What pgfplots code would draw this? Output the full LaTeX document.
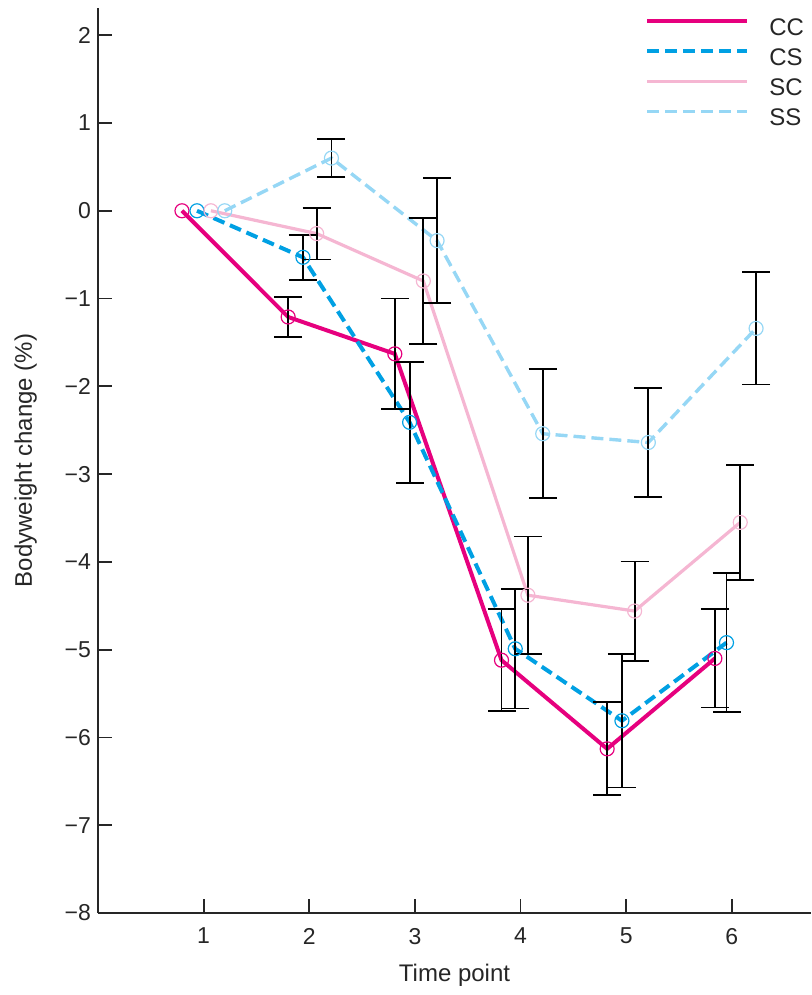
\documentclass[border=0pt]{standalone}
\usepackage{fontspec}
\setmainfont{Liberation Sans}
\usepackage{pgfplots}
\pgfplotsset{compat=1.18}
\usepackage{pgfplotstable}

\definecolor{cc}{RGB}{230,0,126}
\definecolor{cs}{RGB}{0,160,227}
\definecolor{sc}{RGB}{245,182,210}
\definecolor{ss}{RGB}{150,215,245}

\pgfplotstableread{
x y e
0.795 0 0
1.80 -1.21 0.225
2.81 -1.63 0.63
3.82 -5.12 0.58
4.82 -6.13 0.53
5.84 -5.10 0.56
}\CC
\pgfplotstableread{
x y e
0.937 0 0
1.94 -0.53 0.255
2.95 -2.41 0.69
3.95 -4.99 0.68
4.96 -5.81 0.76
5.95 -4.92 0.79
}\CS
\pgfplotstableread{
x y e
1.069 0 0
2.07 -0.26 0.295
3.08 -0.80 0.72
4.07 -4.38 0.67
5.08 -4.56 0.565
6.08 -3.55 0.655
}\SC
\pgfplotstableread{
x y e
1.20 0 0
2.21 0.60 0.215
3.21 -0.34 0.715
4.21 -2.54 0.735
5.21 -2.64 0.625
6.23 -1.34 0.64
}\SS

\begin{document}
\begin{tikzpicture}
\begin{axis}[
  scale only axis, width=356.5pt, height=452.5pt,
  xmin=0, xmax=6.75, ymin=-8, ymax=2.31,
  axis x line=bottom, axis y line=left,
  axis line style={-, line width=0.9pt, black!85},
  tick align=inside, major tick length=7pt,
  tick style={black!85, line width=0.9pt},
  xtick={1,2,3,4,5,6}, xticklabels={1,2,3,4,5,6},
  ytick={-8,-7,-6,-5,-4,-3,-2,-1,0,1,2},
  yticklabels={−8,−7,−6,−5,−4,−3,−2,−1,0,1,2},
  ticklabel style={font=\fontsize{11.5}{13}\selectfont, text=black!85},
  xticklabel style={yshift=-4pt},
  label style={font=\fontsize{12}{14}\selectfont, text=black!85},
  xlabel style={yshift=-3pt},
  ylabel style={yshift=7pt},
  xlabel={Time point}, ylabel={Bodyweight change (\%)},
  clip=false,
  legend style={at={(axis description cs:0.767,1)}, anchor=north west, yshift=-5pt,
    draw=none, fill=none, inner sep=0pt, column sep=10pt, row sep=5pt,
    font=\fontsize{12}{14}\selectfont,
    nodes={inner sep=0pt, text height=8.5pt, text depth=1.5pt, text=black!85}},
  legend cell align=left,
  legend image code/.code={\draw[#1] (0pt,3.5pt) -- (50pt,3.5pt);},
  error bars/error bar style={black, line width=0.9pt, solid},
  error bars/error mark options={black, rotate=90, mark size=7pt, line width=0.9pt, solid},
]
\addplot[cc, line width=2pt, mark=o, mark size=3.5pt, mark options={solid, line width=0.6pt}] table[x=x,y=y] {\CC};
\addlegendentry{CC}
\addplot[cs, line width=2pt, dash pattern=on 6pt off 3pt, mark=o, mark size=3.5pt, mark options={solid, line width=0.6pt}] table[x=x,y=y] {\CS};
\addlegendentry{CS}
\addplot[sc, line width=1.6pt, mark=o, mark size=3.5pt, mark options={solid, line width=0.6pt}] table[x=x,y=y] {\SC};
\addlegendentry{SC}
\addplot[ss, line width=1.7pt, dash pattern=on 6pt off 3pt, mark=o, mark size=3.5pt, mark options={solid, line width=0.6pt}] table[x=x,y=y] {\SS};
\addlegendentry{SS}

\addplot[draw=none, mark=none, forget plot, skip coords between index={0}{1},
  error bars/.cd, y dir=both, y explicit] table[x=x,y=y,y error=e] {\CC};
\addplot[draw=none, mark=none, forget plot, skip coords between index={0}{1},
  error bars/.cd, y dir=both, y explicit] table[x=x,y=y,y error=e] {\CS};
\addplot[draw=none, mark=none, forget plot, skip coords between index={0}{1},
  error bars/.cd, y dir=both, y explicit] table[x=x,y=y,y error=e] {\SC};
\addplot[draw=none, mark=none, forget plot, skip coords between index={0}{1},
  error bars/.cd, y dir=both, y explicit] table[x=x,y=y,y error=e] {\SS};
\end{axis}
\pgfresetboundingbox
\path[use as bounding box] ([xshift=-49pt,yshift=-41pt]current axis.south west) rectangle ([yshift=4pt]current axis.north east);
\end{tikzpicture}
\end{document}
